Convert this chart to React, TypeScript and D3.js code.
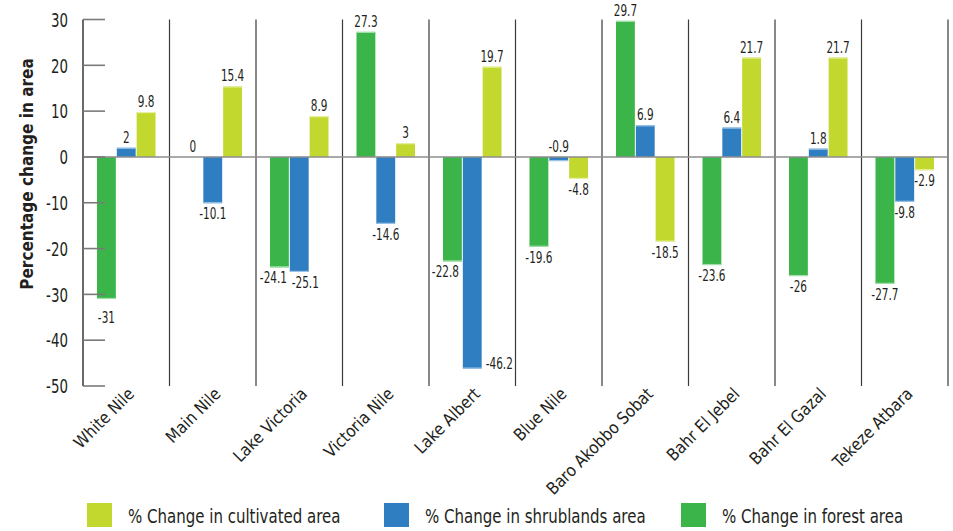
import React from "react";
import * as d3 from "d3";

const categories = [
  "White Nile",
  "Main Nile",
  "Lake Victoria",
  "Victoria Nile",
  "Lake Albert",
  "Blue Nile",
  "Baro Akobbo Sobat",
  "Bahr El Jebel",
  "Bahr El Gazal",
  "Tekeze Atbara",
];

const forestChange = [-31, 0, -24.1, 27.3, -22.8, -19.6, 29.7, -23.6, -26, -27.7];
const shrublandsChange = [2, -10.1, -25.1, -14.6, -46.2, -0.9, 6.9, 6.4, 1.8, -9.8];
const cultivatedChange = [9.8, 15.4, 8.9, 3, 19.7, -4.8, -18.5, 21.7, 21.7, -2.9];

const yTicks = [30, 20, 10, 0, -10, -20, -30, -40, -50];

type SeriesDef = { key: string; label: string; color: string; edge: string; values: number[] };

const series: SeriesDef[] = [
  { key: "forest", label: "% Change in forest area", color: "#3bb54a", edge: "#a4dfab", values: forestChange },
  { key: "shrub", label: "% Change in shrublands area", color: "#2f7ec1", edge: "#9cc3e6", values: shrublandsChange },
  { key: "cult", label: "% Change in cultivated area", color: "#c3d82f", edge: "#e6f0a3", values: cultivatedChange },
];

// legend lists the series in reverse order of the bars
const legendOrder = ["cult", "shrub", "forest"];

const FONT = "'DejaVu Sans', sans-serif";
const INK = "#231f20";
const W = 953;
const H = 531;
const left = 83;
const right = 948;
const top = 19.5;
const bottom = 386;

// Text squeezed horizontally to get a condensed face out of DejaVu Sans.
function CText(props: {
  x: number;
  y: number;
  sx: number;
  size: number;
  anchor?: "start" | "middle" | "end";
  rotate?: number;
  weight?: string;
  dy?: string;
  children: React.ReactNode;
}) {
  const { x, y, sx, size, anchor = "start", rotate = 0, weight = "normal", dy, children } = props;
  return (
    <g transform={`translate(${x},${y}) rotate(${rotate}) scale(${sx},1)`}>
      <text
        textAnchor={anchor}
        fontSize={size}
        fontWeight={weight}
        fill={INK}
        fontFamily={FONT}
        dy={dy}
      >
        {children}
      </text>
    </g>
  );
}

type Lab = { cat: number; idx: number; x: number; y: number; anchor: "middle" | "start"; text: string; below: boolean };

export default function App() {
  const y = d3.scaleLinear().domain([-50, 30]).range([bottom, top]);
  const x0 = d3.scaleBand<string>().domain(categories).range([left, right]).padding(0);
  const bw = x0.bandwidth();
  const x1 = d3
    .scaleBand<string>()
    .domain(series.map((s) => s.key))
    .range([14, bw - 14])
    .paddingInner(0.05);
  const w = x1.bandwidth();

  const bars: React.ReactNode[] = [];
  const labs: Lab[] = [];

  categories.forEach((cat, i) => {
    series.forEach((s, j) => {
      const v = s.values[i];
      const bx = (x0(cat) ?? 0) + (x1(s.key) ?? 0);
      const y0 = y(0);
      const yv = y(v);
      const yTop = Math.min(y0, yv);
      const h = Math.abs(yv - y0);
      const cx = bx + w / 2;
      if (h > 0) {
        const ey = v >= 0 ? yv + 0.5 : yv - 0.5;
        bars.push(
          <g key={`b-${cat}-${s.key}`}>
            <rect x={bx} y={yTop} width={w} height={h} fill={s.color} />
            <line x1={bx} x2={bx + w} y1={ey} y2={ey} stroke={s.edge} strokeWidth={1.2} />
          </g>
        );
      }
      if (v >= -1) {
        // positive, zero and near-zero values sit above the baseline
        labs.push({ cat: i, idx: j, x: cx, y: y(Math.max(0, v)) - 5, anchor: "middle", text: String(v), below: false });
      } else if (yv + 18 > bottom) {
        // label beside the bar when it would run past the axis floor
        labs.push({ cat: i, idx: j, x: bx + w + 4, y: yv, anchor: "start", text: String(v), below: false });
      } else {
        labs.push({ cat: i, idx: j, x: cx, y: yv + 16 + (v <= -30 ? 8 : 0), anchor: "middle", text: String(v), below: true });
      }
    });
  });

  // keep labels under bars clear of their neighbours
  labs.forEach((a) => {
    if (!a.below) return;
    const nextVal = series[a.idx + 1]?.values[a.cat];
    if (nextVal !== undefined && y(nextVal) > a.y - 11) a.x -= 7;
    const b = labs.find((o) => o.cat === a.cat && o.idx === a.idx + 1 && o.below);
    if (b && Math.abs(b.y - a.y) < 14) {
      a.x -= 6;
      b.x += 6;
    }
  });

  return (
    <svg
      width={W}
      height={H}
      style={{ position: "absolute", left: 0, top: 0, background: "#fff" }}
      viewBox={`0 0 ${W} ${H}`}
    >
      {/* category separators */}
      {categories.map((c) => (
        <line
          key={`sep-${c}`}
          x1={(x0(c) ?? 0) + bw}
          x2={(x0(c) ?? 0) + bw}
          y1={top}
          y2={bottom}
          stroke="#3a3a3a"
          strokeWidth={1.2}
        />
      ))}

      {bars}

      {/* zero baseline */}
      <line x1={left} x2={right} y1={y(0)} y2={y(0)} stroke="#8c8c8c" strokeWidth={1.6} />

      {/* y axis */}
      <line x1={left} x2={left} y1={top} y2={bottom} stroke="#444" strokeWidth={1.6} />
      {yTicks.map((t) => (
        <g key={`t-${t}`}>
          <line x1={left} x2={left + 22} y1={y(t)} y2={y(t)} stroke="#7a7a7a" strokeWidth={1.6} />
          <CText x={68} y={y(t)} sx={0.67} size={20} anchor="end" dy="0.36em">
            {t}
          </CText>
        </g>
      ))}
      <CText x={33} y={174} sx={0.85} size={18} anchor="middle" rotate={-90} weight="bold">
        Percentage change in area
      </CText>

      {labs.map((l) => (
        <CText key={`l-${l.cat}-${l.idx}`} x={l.x} y={l.y} sx={0.7} size={15} anchor={l.anchor}>
          {l.text}
        </CText>
      ))}

      {/* category labels */}
      {categories.map((c) => (
        <CText key={`x-${c}`} x={(x0(c) ?? 0) + bw / 2 + 9} y={395} sx={0.88} size={17} anchor="end" rotate={-45}>
          {c}
        </CText>
      ))}

      {/* legend */}
      {legendOrder.map((k, i) => {
        const s = series.find((d) => d.key === k)!;
        const lx = 87 + i * 297;
        return (
          <g key={`lg-${k}`}>
            <rect x={lx} y={503} width={25} height={24} fill={s.color} />
            <CText x={lx + 41} y={523} sx={0.79} size={19}>
              {s.label}
            </CText>
          </g>
        );
      })}
    </svg>
  );
}
